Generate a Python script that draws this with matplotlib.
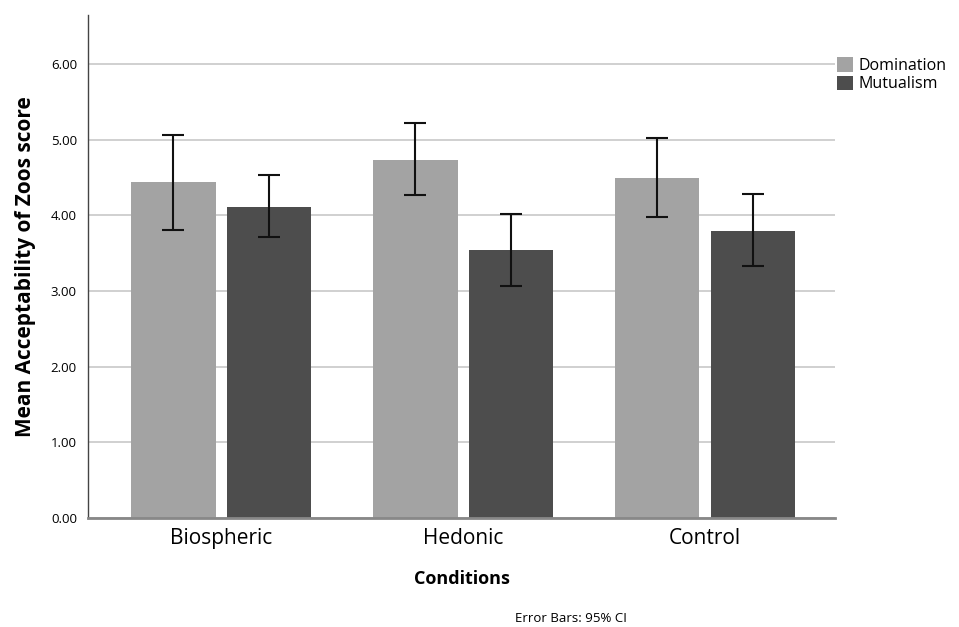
import matplotlib
matplotlib.use("Agg")
import matplotlib.pyplot as plt
import numpy as np

plt.rcParams["font.family"] = ["Open Sans", "DejaVu Sans"]

conditions = ["Biospheric", "Hedonic", "Control"]
series = ["Domination", "Mutualism"]

# means and 95% CI bounds per condition
domination_mean = [4.44, 4.74, 4.50]
domination_lo = [3.81, 4.27, 3.98]
domination_hi = [5.07, 5.22, 5.03]

mutualism_mean = [4.11, 3.54, 3.80]
mutualism_lo = [3.71, 3.07, 3.33]
mutualism_hi = [4.54, 4.02, 4.29]

yticks = [0, 1, 2, 3, 4, 5, 6]

BAR_COLORS = ["#a3a3a3", "#4d4d4d"]
BAR_WIDTH = 0.35
OFFSET = 0.198

fig = plt.figure(figsize=(9.59, 6.27), dpi=100)
ax = fig.add_axes([0.0918, 0.1738, 0.7789, 0.8022])

x = np.arange(len(conditions))
groups = [
    (domination_mean, domination_lo, domination_hi),
    (mutualism_mean, mutualism_lo, mutualism_hi),
]
for i, (means, lo, hi) in enumerate(groups):
    means = np.array(means)
    err = np.vstack([means - np.array(lo), np.array(hi) - means])
    pos = x + (i * 2 - 1) * OFFSET
    ax.bar(pos, means, width=BAR_WIDTH, color=BAR_COLORS[i], label=series[i], zorder=2)
    ax.errorbar(pos, means, yerr=err, fmt="none", ecolor="#111111",
                elinewidth=1.5, capsize=8, capthick=1.5, zorder=3)

ax.set_xlim(-0.55, 2.537)
ax.set_ylim(0, 6.65)
ax.set_yticks(yticks)
ax.set_yticklabels([f"{v:.2f}" for v in yticks], fontsize=9.5)
ax.set_xticks(x)
ax.set_xticklabels(conditions, fontsize=15)
ax.tick_params(axis="both", length=0)
ax.tick_params(axis="y", pad=8)
ax.tick_params(axis="x", pad=7)

ax.yaxis.grid(True, color="#c8c8c8", linewidth=1.2)
ax.set_axisbelow(True)

for side in ["top", "right"]:
    ax.spines[side].set_visible(False)
ax.spines["left"].set_color("#444444")
ax.spines["left"].set_linewidth(1.0)
ax.spines["bottom"].set_color("#888888")
ax.spines["bottom"].set_linewidth(2.0)

ax.set_ylabel("Mean Acceptability of Zoos score", fontsize=15, fontweight="bold", labelpad=11)
ax.set_xlabel("Conditions", fontsize=13, fontweight="bold", labelpad=15)

fig.text(0.595, 0.003, "Error Bars: 95% CI", fontsize=9.5, ha="center", va="bottom")

ax.legend(loc="upper left", bbox_to_anchor=(1.003, 0.916), frameon=False,
          fontsize=11.5, handlelength=1.0, handleheight=1.0, handletextpad=0.3,
          labelspacing=0.1, borderaxespad=0, borderpad=0)

fig.savefig("out.png", dpi=100)
